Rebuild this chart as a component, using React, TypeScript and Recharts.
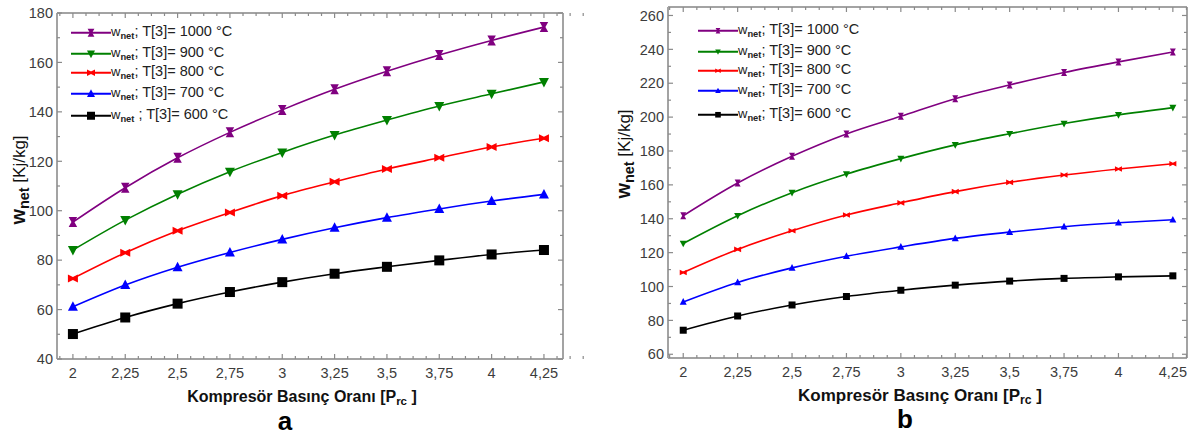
import React from "react";
import { LineChart, Line, XAxis, YAxis } from "recharts";

const pressureRatio = [2, 2.25, 2.5, 2.75, 3, 3.25, 3.5, 3.75, 4, 4.25];

// panel a, w_net [kJ/kg]
const wnetA1000 = [95.4, 109.3, 121.4, 131.7, 140.8, 149.1, 156.4, 163.0, 168.9, 174.3];
const wnetA900 = [84.1, 96.2, 106.7, 115.8, 123.6, 130.6, 136.7, 142.4, 147.3, 152.1];
const wnetA800 = [72.6, 83.0, 91.9, 99.3, 106.1, 111.7, 116.9, 121.4, 125.8, 129.3];
const wnetA700 = [61.1, 69.9, 77.1, 83.1, 88.4, 93.1, 97.2, 100.7, 103.9, 106.6];
const wnetA600 = [50.1, 56.8, 62.4, 67.1, 71.1, 74.5, 77.3, 79.9, 82.3, 84.1];

// panel b
const wnetB1000 = [141.8, 161.1, 176.9, 190.1, 200.5, 210.9, 219.0, 226.3, 232.6, 238.4];
const wnetB900 = [125.4, 141.8, 155.4, 166.4, 175.5, 183.6, 190.2, 196.2, 201.3, 205.6];
const wnetB800 = [108.3, 121.9, 132.9, 142.2, 149.4, 156.0, 161.5, 165.8, 169.4, 172.5];
const wnetB700 = [90.9, 102.4, 111.0, 117.9, 123.4, 128.4, 132.1, 135.3, 137.6, 139.4];
const wnetB600 = [74.2, 82.6, 89.1, 94.1, 97.8, 100.8, 103.2, 104.8, 105.7, 106.3];

const yTicksA = [40, 50, 60, 70, 80, 90, 100, 110, 120, 130, 140, 150, 160, 170, 180];
const yTicksB = [60, 70, 80, 90, 100, 110, 120, 130, 140, 150, 160, 170, 180, 190, 200, 210, 220, 230, 240, 250, 260];

// majors plus three minor ticks between each, one minor past each end
const xTicks = [1.9375].concat(
  ...pressureRatio.map((p) => [p, p + 0.0625, p + 0.125, p + 0.1875])
);

const SERIES = [
  { key: "t1000", temp: "1000", color: "#800080", shape: "hourglass" },
  { key: "t900", temp: "900", color: "#008000", shape: "down" },
  { key: "t800", temp: "800", color: "#ff0000", shape: "bowtie" },
  { key: "t700", temp: "700", color: "#0000ff", shape: "up" },
  { key: "t600", temp: "600", color: "#000000", shape: "square" },
];

function buildRows(s1000: number[], s900: number[], s800: number[], s700: number[], s600: number[]) {
  return pressureRatio.map((p, i) => ({
    p,
    t1000: s1000[i],
    t900: s900[i],
    t800: s800[i],
    t700: s700[i],
    t600: s600[i],
  }));
}

const dataA = buildRows(wnetA1000, wnetA900, wnetA800, wnetA700, wnetA600);
const dataB = buildRows(wnetB1000, wnetB900, wnetB800, wnetB700, wnetB600);

const FONT = '"Liberation Sans", Arial, sans-serif';
const FRAME = "#a3a3a3";
const TICK_TEXT = "#3c3c3c";

function Marker({ cx, cy, shape, color, s }: { cx: number; cy: number; shape: string; color: string; s: number }) {
  const w = s * 0.3;
  if (shape === "square") {
    return <rect x={cx - s} y={cy - s} width={2 * s} height={2 * s} fill={color} />;
  }
  if (shape === "up") {
    return <polygon points={`${cx},${cy - s * 1.1} ${cx - s},${cy + s * 0.8} ${cx + s},${cy + s * 0.8}`} fill={color} />;
  }
  if (shape === "down") {
    return <polygon points={`${cx},${cy + s * 1.1} ${cx - s},${cy - s * 0.8} ${cx + s},${cy - s * 0.8}`} fill={color} />;
  }
  if (shape === "hourglass") {
    return (
      <polygon
        points={`${cx - s * 0.85},${cy - s} ${cx + s * 0.85},${cy - s} ${cx + w},${cy} ${cx + s * 0.85},${cy + s} ${cx - s * 0.85},${cy + s} ${cx - w},${cy}`}
        fill={color}
      />
    );
  }
  // bowtie (horizontal)
  return (
    <polygon
      points={`${cx - s},${cy - s * 0.8} ${cx},${cy - w} ${cx + s},${cy - s * 0.8} ${cx + s},${cy + s * 0.8} ${cx},${cy + w} ${cx - s},${cy + s * 0.8}`}
      fill={color}
    />
  );
}

type TickProps = {
  x: number;
  y: number;
  payload: { value: number };
  side: "bottom" | "top" | "left" | "right";
  gap: number;
  major: boolean;
  label: boolean;
};

function FrameTick({ x, y, payload, side, gap, major, label }: TickProps) {
  const len = major ? 5 : 3;
  const v = payload.value;
  const text = String(v).replace(".", ",");
  let line;
  let txt = null;
  if (side === "bottom") {
    const ay = y - gap;
    line = <line x1={x} x2={x} y1={ay} y2={ay - len} />;
    if (label && major)
      txt = (
        <text x={x} y={y} dy="0.71em" textAnchor="middle" fill={TICK_TEXT} fontSize={14.5} stroke="none">
          {text}
        </text>
      );
  } else if (side === "top") {
    const ay = y + gap;
    line = <line x1={x} x2={x} y1={ay} y2={ay + len} />;
  } else if (side === "left") {
    const ax = x + gap;
    line = <line x1={ax} x2={ax + len} y1={y} y2={y} />;
    if (label && major)
      txt = (
        <text x={x} y={y} dy="0.36em" textAnchor="end" fill={TICK_TEXT} fontSize={14.5} stroke="none">
          {text}
        </text>
      );
  } else {
    const ax = x - gap;
    line = <line x1={ax} x2={ax - len} y1={y} y2={y} />;
  }
  return (
    <g stroke="#8a8a8a" strokeWidth={1.2}>
      {line}
      {txt}
    </g>
  );
}

const isMajorX = (v: number) => Math.abs(v * 4 - Math.round(v * 4)) < 1e-6;
const isMajorY = (v: number) => v % 20 === 0;

function Wnet({ size, bold }: { size: number; bold?: boolean }) {
  return (
    <span style={{ fontSize: size, fontWeight: bold ? 700 : 400 }}>
      w
      <span style={{ fontSize: size * 0.72, fontWeight: 700, position: "relative", top: "0.3em" }}>net</span>
    </span>
  );
}

interface PanelProps {
  left: number;
  width: number;
  data: typeof dataA;
  xDomain: [number, number];
  yDomain: [number, number];
  yTicks: number[];
  margin: { top: number; right: number; bottom: number; left: number };
  yAxisWidth: number;
  markerSize: number;
  legendX: number;
  legendRows: number[];
  spaceBefore600: boolean;
  yTitle: { x: number; y: number };
  xTitle: { x: number; y: number; size: number };
  letter: { x: number; y: number; text: string };
}

function Panel(props: PanelProps) {
  const { left, width, data, xDomain, yDomain, yTicks, margin, yAxisWidth, markerSize } = props;
  return (
    <div style={{ position: "absolute", left, top: 0, width, height: 438 }}>
      <LineChart width={width} height={438} data={data} margin={margin}>
        <XAxis
          xAxisId="bottom"
          dataKey="p"
          type="number"
          domain={xDomain}
          allowDataOverflow
          ticks={xTicks}
          interval={0}
          height={30}
          tickSize={0}
          tickMargin={9}
          tickLine={false}
          axisLine={{ stroke: FRAME, strokeWidth: 2 }}
          tick={(p: any) => <FrameTick {...p} side="bottom" gap={9} major={isMajorX(p.payload.value)} label />}
        />
        <XAxis
          xAxisId="top"
          dataKey="p"
          orientation="top"
          type="number"
          domain={xDomain}
          allowDataOverflow
          ticks={xTicks}
          interval={0}
          height={2}
          tickSize={0}
          tickMargin={2}
          tickLine={false}
          axisLine={{ stroke: FRAME, strokeWidth: 2 }}
          tick={(p: any) => <FrameTick {...p} side="top" gap={2} major={isMajorX(p.payload.value)} label={false} />}
        />
        <YAxis
          yAxisId="left"
          type="number"
          domain={yDomain}
          allowDataOverflow
          ticks={yTicks}
          interval={0}
          width={yAxisWidth}
          tickSize={0}
          tickMargin={4}
          tickLine={false}
          axisLine={{ stroke: FRAME, strokeWidth: 2 }}
          tick={(p: any) => <FrameTick {...p} side="left" gap={4} major={isMajorY(p.payload.value)} label />}
        />
        <YAxis
          yAxisId="right"
          orientation="right"
          type="number"
          domain={yDomain}
          allowDataOverflow
          ticks={yTicks}
          interval={0}
          width={2}
          tickSize={0}
          tickMargin={2}
          tickLine={false}
          axisLine={{ stroke: FRAME, strokeWidth: 2 }}
          tick={(p: any) => <FrameTick {...p} side="right" gap={2} major={isMajorY(p.payload.value)} label={false} />}
        />
        {/* invisible series so the mirrored frame axes get a scale */}
        <Line
          xAxisId="top"
          yAxisId="right"
          dataKey="t600"
          stroke="none"
          dot={false}
          activeDot={false}
          legendType="none"
          isAnimationActive={false}
        />
        {SERIES.map((s) => (
          <Line
            key={s.key}
            xAxisId="bottom"
            yAxisId="left"
            type="monotone"
            dataKey={s.key}
            stroke={s.color}
            strokeWidth={1.6}
            isAnimationActive={false}
            dot={(d: any) => (
              <Marker key={`${s.key}-${d.index}`} cx={d.cx} cy={d.cy} shape={s.shape} color={s.color} s={markerSize} />
            )}
            activeDot={false}
          />
        ))}
      </LineChart>

      {/* legend */}
      {SERIES.map((s, i) => (
        <div
          key={s.key}
          style={{
            position: "absolute",
            left: props.legendX,
            top: props.legendRows[i],
            transform: "translateY(-50%)",
            display: "flex",
            alignItems: "center",
            whiteSpace: "nowrap",
            color: "#222",
            fontSize: 14.5,
            lineHeight: 1,
          }}
        >
          <svg width={40} height={14} style={{ display: "block" }}>
            <line x1={0} x2={40} y1={7} y2={7} stroke={s.color} strokeWidth={2.2} />
            <Marker cx={20} cy={7} shape={s.shape} color={s.color} s={markerSize * 0.8} />
          </svg>
          <span style={{ position: "relative", top: -2 }}>
            <Wnet size={13} />
            {s.temp === "600" && props.spaceBefore600 ? " ; " : "; "}
            {`T[3]= ${s.temp} °C`}
          </span>
        </div>
      ))}

      {/* y title */}
      <div
        style={{
          position: "absolute",
          left: props.yTitle.x,
          top: props.yTitle.y,
          transform: "translate(-50%, -50%) rotate(-90deg)",
          whiteSpace: "nowrap",
          color: "#111",
          lineHeight: 1,
        }}
      >
        <Wnet size={20} bold />
        <span style={{ fontSize: 17 }}> [Kj/kg]</span>
      </div>

      {/* x title */}
      <div
        style={{
          position: "absolute",
          left: props.xTitle.x,
          top: props.xTitle.y,
          transform: "translate(-50%, -50%)",
          whiteSpace: "nowrap",
          color: "#111",
          fontWeight: 700,
          fontSize: props.xTitle.size,
          lineHeight: 1,
        }}
      >
        Kompresör Basınç Oranı [P
        <span style={{ fontSize: props.xTitle.size * 0.72, position: "relative", top: "0.25em" }}>rc</span> ]
      </div>

      <div
        style={{
          position: "absolute",
          left: props.letter.x,
          top: props.letter.y,
          transform: "translate(-50%, -50%)",
          fontWeight: 700,
          fontSize: 26,
          lineHeight: 1,
          color: "#000",
        }}
      >
        {props.letter.text}
      </div>
    </div>
  );
}

export default function App() {
  return (
    <div style={{ position: "relative", width: 1194, height: 438, background: "#fff", fontFamily: FONT }}>
      <style>{`body{margin:0}`}</style>
      <Panel
        left={0}
        width={600}
        data={dataA}
        xDomain={[1.924, 4.341]}
        yDomain={[40, 180]}
        yTicks={yTicksA}
        margin={{ top: 11, right: 35, bottom: 49, left: 0 }}
        yAxisWidth={57}
        markerSize={5}
        legendX={71}
        legendRows={[33, 54, 73, 94, 116]}
        spaceBefore600
        yTitle={{ x: 18, y: 180 }}
        xTitle={{ x: 302, y: 397, size: 16 }}
        letter={{ x: 285, y: 421, text: "a" }}
      />
      <Panel
        left={600}
        width={594}
        data={dataB}
        xDomain={[1.93, 4.315]}
        yDomain={[57.8, 265]}
        yTicks={yTicksB}
        margin={{ top: 5, right: 5, bottom: 50, left: 0 }}
        yAxisWidth={68}
        markerSize={3.5}
        legendX={98}
        legendRows={[31, 52, 71, 91, 115]}
        spaceBefore600={false}
        yTitle={{ x: 23, y: 154 }}
        xTitle={{ x: 320, y: 395, size: 17 }}
        letter={{ x: 305, y: 419, text: "b" }}
      />
    </div>
  );
}
